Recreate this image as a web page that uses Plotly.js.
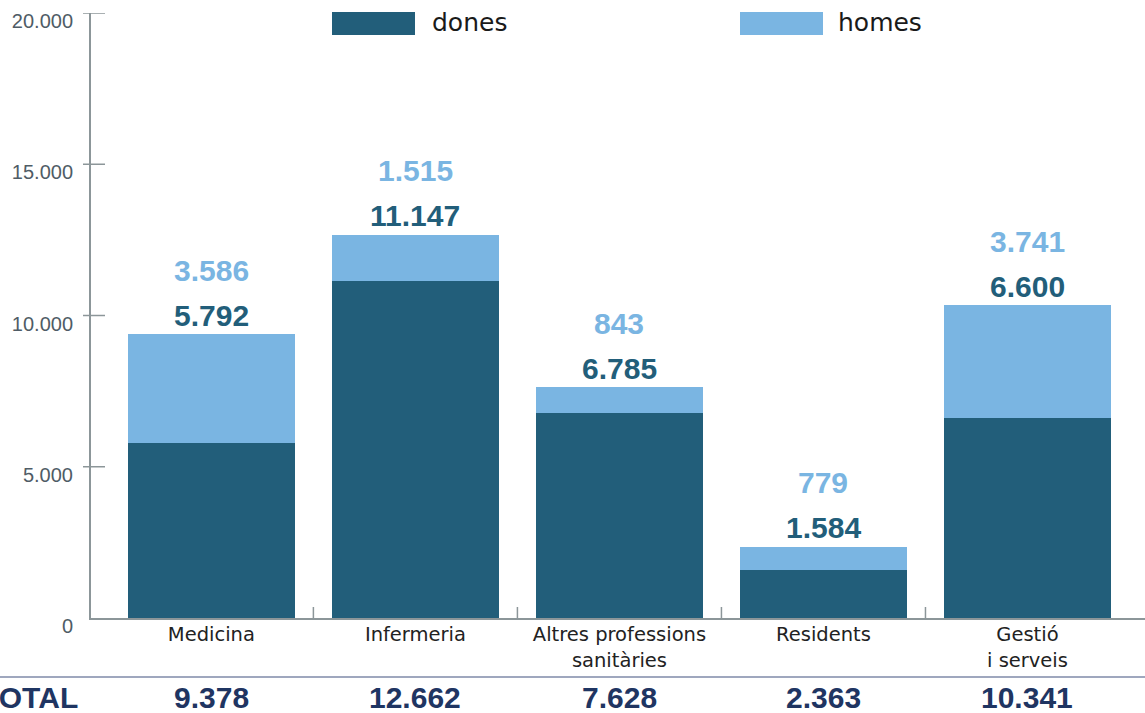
<!DOCTYPE html>
<html>
<head>
<meta charset="utf-8">
<script src="https://cdn.plot.ly/plotly-3.0.1.min.js"></script>
<style>html,body{margin:0;padding:0;background:#fff;}#chart{width:1145px;height:713px;}</style>
</head>
<body>
<div id="chart"></div>
<script>
// ---- data ----
var categories = ['Medicina', 'Infermeria', 'Altres professions<br>sanitàries', 'Residents', 'Gestió<br>i serveis'];
var dones = [5792, 11147, 6785, 1584, 6600];
var homes = [3586, 1515, 843, 779, 3741];
var yTickVals = [0, 5000, 10000, 15000, 20000];
var seriesNames = ['dones', 'homes'];
var totalLabel = 'TOTAL';

// ---- styles ----
var cDones = '#225e7a';
var cHomes = '#7ab5e2';
var cAxis = '#8c9699';
var cTotal = '#1f3562';

function fmt(n) {
  return String(n).replace(/\B(?=(\d{3})+(?!\d))/g, '.');
}
var totals = dones.map(function (d, i) { return d + homes[i]; });

var traces = [
  { type: 'bar', name: seriesNames[0], x: categories, y: dones, marker: { color: cDones }, hoverinfo: 'y' },
  { type: 'bar', name: seriesNames[1], x: categories, y: homes, marker: { color: cHomes }, hoverinfo: 'y' }
];

var L = 91, W = 1054, T = 13, H = 605;
function px2x(p) { return (p - L) / W; }
function px2y(p) { return (T + H - p) / H; }

var annotations = [];
var shapes = [];
categories.forEach(function (c, i) {
  annotations.push({ x: c, y: totals[i], xref: 'x', yref: 'y', text: fmt(dones[i]), showarrow: false,
    yanchor: 'middle', yshift: 19, font: { family: 'Liberation Sans, Arial', size: 30, color: cDones, weight: 'bold' } });
  annotations.push({ x: c, y: totals[i], xref: 'x', yref: 'y', text: fmt(homes[i]), showarrow: false,
    yanchor: 'middle', yshift: 64, font: { family: 'Liberation Sans, Arial', size: 30, color: cHomes, weight: 'bold' } });
  annotations.push({ x: c, y: px2y(697), xref: 'x', yref: 'paper', text: fmt(totals[i]), showarrow: false,
    yanchor: 'middle', font: { family: 'Liberation Sans, Arial', size: 30, color: cTotal, weight: 'bold' } });
  if (i > 0) {
    shapes.push({ type: 'line', xref: 'x', yref: 'y', x0: i - 0.5, x1: i - 0.5, ysizemode: 'pixel', yanchor: 0,
      y0: -12, y1: 11, line: { color: cAxis, width: 1.5 } });
  }
});
yTickVals.forEach(function (v) {
  if (v === 0) return;
  shapes.push({ type: 'line', xref: 'paper', yref: 'y', y0: v, y1: v, xsizemode: 'pixel', xanchor: 0,
    x0: -8, x1: 14, line: { color: cAxis, width: 1.5 } });
});
// TOTAL label and separator line
annotations.push({ x: px2x(80), y: px2y(697), xref: 'paper', yref: 'paper', text: totalLabel, showarrow: false,
  xanchor: 'right', yanchor: 'middle', font: { family: 'Liberation Sans, Arial', size: 30, color: cTotal, weight: 'bold' } });
shapes.push({ type: 'line', xref: 'paper', yref: 'paper', x0: px2x(0), x1: px2x(1145), y0: px2y(677), y1: px2y(677),
  line: { color: '#7f8aa8', width: 1.5 } });
// legend
var legendItems = [
  { name: seriesNames[0], color: cDones, x0: 332, x1: 415, tx: 430 },
  { name: seriesNames[1], color: cHomes, x0: 740, x1: 823, tx: 836 }
];
legendItems.forEach(function (it) {
  shapes.push({ type: 'rect', xref: 'paper', yref: 'paper', x0: px2x(it.x0), x1: px2x(it.x1), y0: px2y(35), y1: px2y(12),
    fillcolor: it.color, line: { width: 0 } });
  annotations.push({ x: px2x(it.tx), y: px2y(23), xref: 'paper', yref: 'paper', text: it.name, showarrow: false,
    xanchor: 'left', yanchor: 'middle', font: { family: 'DejaVu Sans', size: 25, color: '#1a1a1a' } });
});

var layout = {
  width: 1145, height: 713,
  margin: { l: L, r: 0, t: T, b: 713 - T - H, pad: 0 },
  paper_bgcolor: '#fff', plot_bgcolor: '#fff',
  barmode: 'stack', bargap: 0.181,
  showlegend: false,
  separators: ',.',
  xaxis: {
    type: 'category', range: [-0.59, 4.576], showgrid: false, zeroline: false,
    showline: true, linecolor: cAxis, linewidth: 2, ticks: '', ticklabelstandoff: -2,
    tickfont: { family: 'DejaVu Sans', size: 19.5, color: '#222' }
  },
  yaxis: {
    range: [0, 20000], tickvals: yTickVals, tickformat: ',d', showgrid: false, zeroline: false,
    showline: true, linecolor: cAxis, linewidth: 2, ticks: '', ticklabelstandoff: 12, ticklabelshift: 8,
    tickfont: { family: 'Liberation Sans, Arial', size: 20, color: '#4f5c66' }
  },
  annotations: annotations,
  shapes: shapes
};

Plotly.newPlot('chart', traces, layout, { displayModeBar: false, staticPlot: true });
</script>
</body>
</html>
